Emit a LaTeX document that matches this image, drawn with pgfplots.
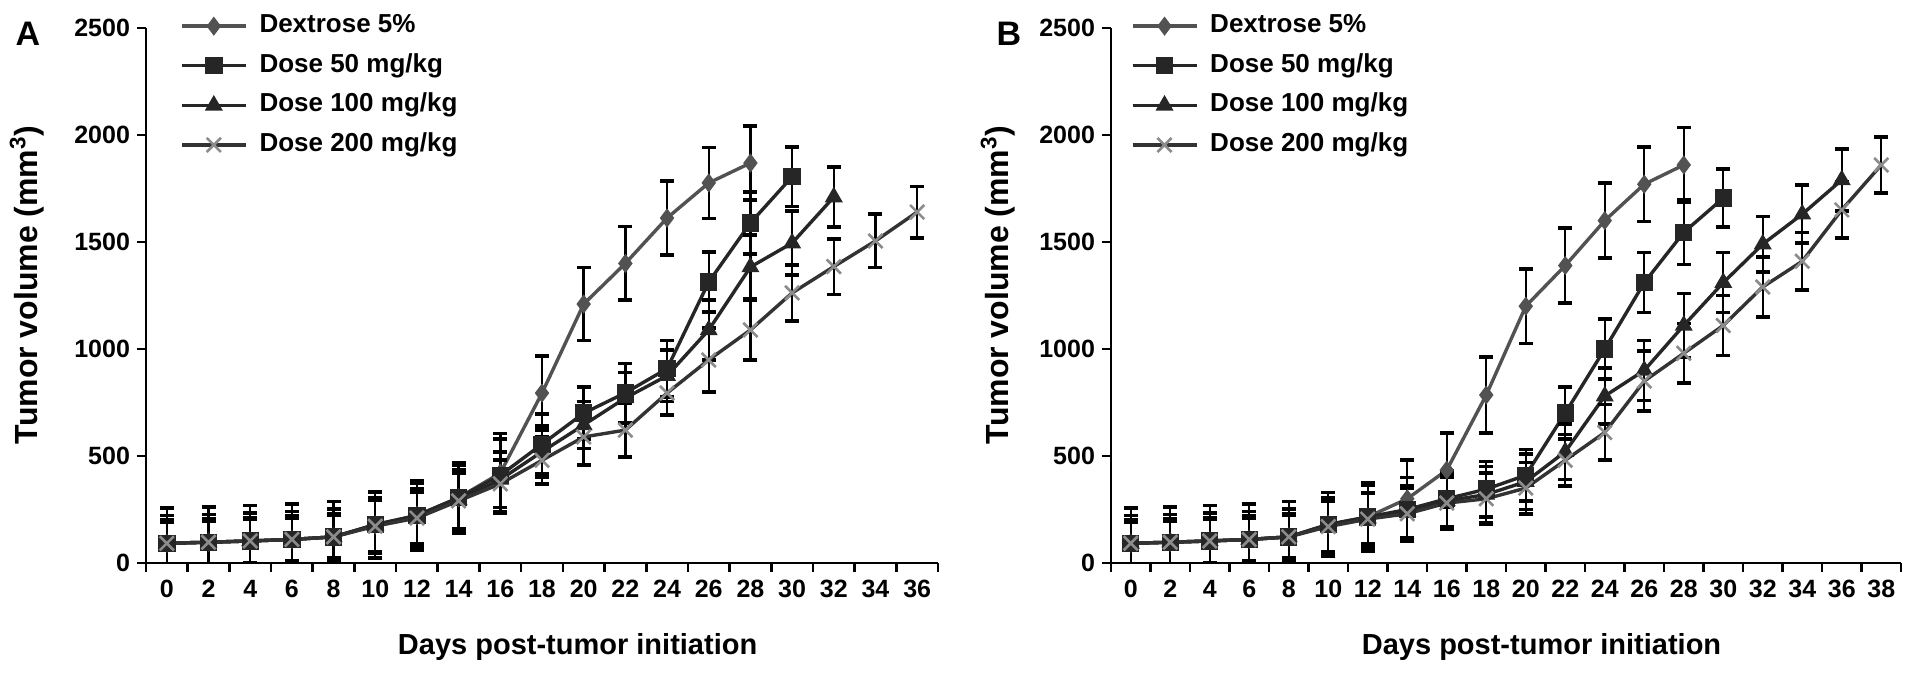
\documentclass[border=0pt]{standalone}
\usepackage{pgfplots}
\pgfplotsset{compat=1.18}
\usepackage{pgfplotstable}
\usepackage{fontspec}
\setmainfont{Liberation Sans}

\pgfplotstableread{
x y e
0 92 165
2 97 165
4 103 165
6 110 165
8 122 165
10 178 155
12 222 160
14 305 165
16 420 185
18 794 173
20 1210 170
22 1400 172
24 1612 173
26 1776 166
28 1869 173
}\Adex
\pgfplotstableread{
x y e
0 92 130
2 97 130
4 103 130
6 110 130
8 122 130
10 180 155
12 222 150
14 305 150
16 410 170
18 555 140
20 700 122
22 795 138
24 908 132
26 1313 140
28 1589 145
30 1805 140
}\Afifty
\pgfplotstableread{
x y e
0 92 110
2 97 110
4 103 110
6 110 110
8 122 110
10 176 130
12 215 130
14 295 140
16 390 130
18 520 120
20 645 110
22 771 120
24 875 120
26 1089 140
28 1383 150
30 1495 150
32 1710 140
}\Ahundred
\pgfplotstableread{
x y e
0 92 100
2 97 100
4 103 100
6 110 100
8 122 100
10 172 120
12 210 120
14 290 130
16 370 110
18 480 110
20 589 130
22 621 126
24 794 102
26 949 150
28 1089 140
30 1262 130
32 1385 130
34 1505 125
36 1640 120
}\Atwohundred

\pgfplotstableread{
x y e
0 92 165
2 97 165
4 103 165
6 110 165
8 122 165
10 180 150
12 215 160
14 300 180
16 434 173
18 785 178
20 1200 175
22 1390 175
24 1600 175
26 1770 175
28 1860 175
}\Bdex
\pgfplotstableread{
x y e
0 92 130
2 97 130
4 103 130
6 110 130
8 122 130
10 180 150
12 215 150
14 250 150
16 300 130
18 345 130
20 410 120
22 701 121
24 1000 140
26 1310 140
28 1545 150
30 1705 135
}\Bfifty
\pgfplotstableread{
x y e
0 92 110
2 97 110
4 103 110
6 110 110
8 122 110
10 175 130
12 210 120
14 240 120
16 290 120
18 320 130
20 380 130
22 520 130
24 780 130
26 900 140
28 1110 150
30 1310 140
32 1490 130
34 1630 135
36 1790 145
}\Bhundred
\pgfplotstableread{
x y e
0 92 100
2 97 100
4 103 100
6 110 100
8 122 100
10 170 120
12 205 120
14 230 120
16 280 120
18 300 120
20 350 120
22 480 120
24 610 130
26 850 140
28 980 140
30 1110 140
32 1290 140
34 1410 135
36 1650 130
38 1860 130
}\Btwohundred

\pgfplotsset{
  panel/.style={
    scale only axis, height=267.5pt,
    ymin=0, ymax=2500,
    ytick={0,500,1000,1500,2000,2500},
    minor ytick={0,500,1000,1500,2000,2500},
    xmin=-1,
    axis x line*=bottom, axis y line*=left,
    tick align=outside,
    major tick length=0pt, minor tick length=4.5pt,
    every tick/.style={line width=1.3pt, black},
    every minor tick/.style={line width=1.3pt, black},
    axis line style={line width=1.4pt, black},
    /pgf/number format/assume math mode=true,
    /pgf/number format/1000 sep={},
    tick label style={font=\bfseries\fontsize{12.5}{14}\selectfont},
    yticklabel style={xshift=-4.5pt},
    xticklabel style={yshift=-5pt},
    xlabel style={font=\bfseries\fontsize{14.5}{16}\selectfont, at={(axis description cs:0.545,-0.157)}, anchor=center},
    ylabel style={font=\bfseries\fontsize{16}{18}\selectfont, anchor=center},
    xlabel={Days post-tumor initiation},
    ylabel={Tumor volume (mm\textsuperscript{3})},
    legend cell align=left,
    legend style={draw=none, fill=none, anchor=north west,
      font=\bfseries\fontsize{13}{15}\selectfont,
      nodes={text height=9.5pt, text depth=3pt, inner sep=0pt},
      row sep=7.3pt, column sep=6pt},
    legend image code/.code={\draw[mark repeat=2,mark phase=2] plot coordinates {(0pt,0pt)(16pt,0pt)(32pt,0pt)};},
    error bars/y dir=both, error bars/y explicit,
    error bars/error bar style={line width=1.2pt, black},
    error bars/error mark options={rotate=90, mark size=3.5pt, line width=1.8pt, black},
  },
  dex/.style={black!68, line width=1.7pt, mark=diamond*, mark size=3.4pt, mark options={solid, fill=black!68}},
  fifty/.style={black!85, line width=1.7pt, mark=square*, mark size=3.5pt, mark options={solid, fill=black!85}},
  hundred/.style={black!85, line width=1.7pt, mark=triangle*, mark size=3.5pt, mark options={solid, fill=black!85}},
  twohundred/.style={black!80, line width=1.7pt, mark=x, mark size=5pt, mark options={solid, draw=black!45, line width=1.3pt}},
}

\begin{document}
\begin{tikzpicture}
\useasboundingbox (0,0) rectangle (956.5pt,336.5pt);
\begin{axis}[panel, name=pA, at={(73pt,55pt)}, anchor=south west, width=396pt, xmax=37,
  xtick={0,2,...,36}, minor xtick={-1,1,...,37},
  ylabel style={at={(axis description cs:-0.150,0.52)}},
  legend style={at={(axis description cs:0.035,1.035)}}]
  \addplot+[dex] table[x=x, y=y, y error=e] {\Adex};
  \addlegendentry{Dextrose 5\%}
  \addplot+[fifty] table[x=x, y=y, y error=e] {\Afifty};
  \addlegendentry{Dose 50 mg/kg}
  \addplot+[hundred] table[x=x, y=y, y error=e] {\Ahundred};
  \addlegendentry{Dose 100 mg/kg}
  \addplot+[twohundred] table[x=x, y=y, y error=e] {\Atwohundred};
  \addlegendentry{Dose 200 mg/kg}
\end{axis}
\begin{axis}[panel, name=pB, at={(555.5pt,55pt)}, anchor=south west, width=395pt, xmax=39,
  xtick={0,2,...,38}, minor xtick={-1,1,...,39},
  ylabel style={at={(axis description cs:-0.143,0.52)}},
  legend style={at={(axis description cs:0.017,1.035)}}]
  \addplot+[dex] table[x=x, y=y, y error=e] {\Bdex};
  \addlegendentry{Dextrose 5\%}
  \addplot+[fifty] table[x=x, y=y, y error=e] {\Bfifty};
  \addlegendentry{Dose 50 mg/kg}
  \addplot+[hundred] table[x=x, y=y, y error=e] {\Bhundred};
  \addlegendentry{Dose 100 mg/kg}
  \addplot+[twohundred] table[x=x, y=y, y error=e] {\Btwohundred};
  \addlegendentry{Dose 200 mg/kg}
\end{axis}
\node[font=\bfseries\fontsize{17}{19}\selectfont] at ([xshift=-59pt,yshift=-3pt]pA.north west) {A};
\node[font=\bfseries\fontsize{17}{19}\selectfont] at ([xshift=-51pt,yshift=-3pt]pB.north west) {B};
\end{tikzpicture}
\end{document}
